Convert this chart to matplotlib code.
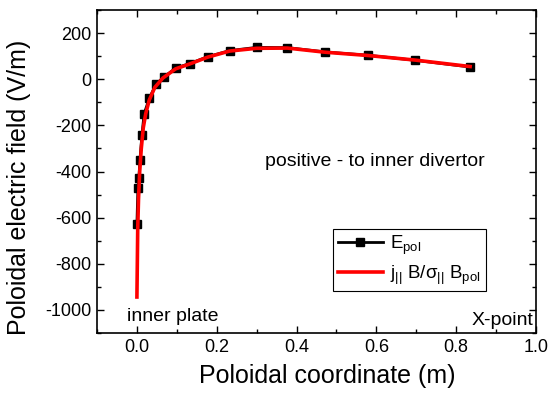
import matplotlib
matplotlib.use("Agg")
import matplotlib.pyplot as plt
from matplotlib.ticker import MultipleLocator

plt.rcParams['font.family'] = ['Liberation Sans', 'DejaVu Sans']
plt.rcParams['mathtext.fontset'] = 'custom'
plt.rcParams['mathtext.rm'] = 'Liberation Sans'
plt.rcParams['mathtext.it'] = 'Liberation Sans'
plt.rcParams['mathtext.sf'] = 'Liberation Sans'
plt.rcParams['axes.unicode_minus'] = False

# E_pol (black squares)
epol_x = [0.0, 0.0025, 0.005, 0.0075, 0.0125, 0.018, 0.031, 0.0475, 0.0675, 0.0975,
          0.1325, 0.178, 0.2325, 0.30, 0.377, 0.4725, 0.578, 0.6975, 0.835]
epol_y = [-627, -472, -426, -351, -243, -150, -83, -22, 9, 49,
          68, 98, 124, 138, 137, 118, 104, 82, 53]

# j_par B / sigma_par B_pol (red)
jb_x = [0.0, 0.001, 0.002, 0.004, 0.007, 0.011, 0.016, 0.022, 0.031, 0.045, 0.065,
        0.097, 0.132, 0.178, 0.232, 0.30, 0.377, 0.472, 0.578, 0.697, 0.835]
jb_y = [-944, -800, -650, -520, -400, -300, -210, -150, -90, -35, 5,
        45, 66, 96, 122, 134, 135, 117, 103, 83, 55]

fig = plt.figure(figsize=(5.49, 3.94), dpi=100)
ax = fig.add_axes([0.1767, 0.1548, 0.7996, 0.8198])

ax.plot(epol_x, epol_y, color='black', lw=2, marker='s', ms=6,
        label=r'E$_{\mathrm{pol}}$', zorder=2)
ax.plot(jb_x, jb_y, color='red', lw=2.6,
        label=r'j$_{||}$ B/$\sigma_{||}$ B$_{\mathrm{pol}}$', zorder=3)

ax.set_xlim(-0.1, 1.0)
ax.set_ylim(-1100, 300)
ax.xaxis.set_major_locator(MultipleLocator(0.2))
ax.xaxis.set_minor_locator(MultipleLocator(0.1))
ax.yaxis.set_major_locator(MultipleLocator(200))
ax.yaxis.set_minor_locator(MultipleLocator(100))
ax.set_xticks([0.0, 0.2, 0.4, 0.6, 0.8, 1.0])
ax.set_xticklabels(['0.0', '0.2', '0.4', '0.6', '0.8', '1.0'])
ax.tick_params(which='both', direction='in', top=True, right=True, labelsize=13, width=1, pad=4)
ax.tick_params(which='major', length=5)
ax.tick_params(which='minor', length=3)
for s in ax.spines.values():
    s.set_linewidth(1.2)

ax.set_xlabel('Poloidal coordinate (m)', fontsize=18)
ax.set_ylabel('Poloidal electric field (V/m)', fontsize=18)
ax.xaxis.set_label_coords(0.524, -0.097)
ax.yaxis.set_label_coords(-0.150, 0.452)

ax.text(0.632, 0.532, 'positive - to inner divertor', transform=ax.transAxes,
        fontsize=14, ha='center', va='center')
ax.text(0.068, 0.052, 'inner plate', transform=ax.transAxes, fontsize=14,
        ha='left', va='center')
ax.text(0.995, 0.04, 'X-point', transform=ax.transAxes, fontsize=14,
        ha='right', va='center')

leg = ax.legend(loc='upper left', bbox_to_anchor=(0.538, 0.322), fontsize=13.5,
                frameon=True, fancybox=False, edgecolor='black', framealpha=1,
                handlelength=2.4, borderpad=0.25, labelspacing=0.35, handletextpad=0.4,
                borderaxespad=0)
leg.get_frame().set_linewidth(0.8)

fig.savefig('out.png', dpi=100)
